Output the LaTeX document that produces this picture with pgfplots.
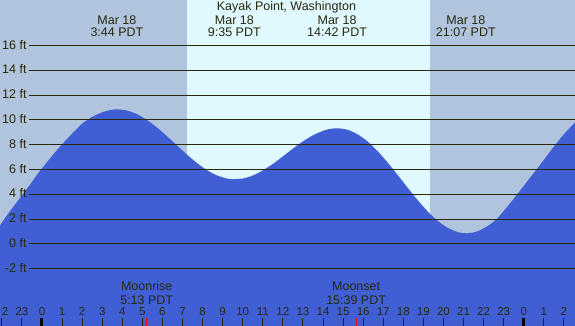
\documentclass[border=0pt]{standalone}
\usepackage{pgfplots}
\pgfplotsset{compat=1.18}
\usepackage{fontspec}
\setmainfont{Liberation Sans}
\definecolor{night}{RGB}{176,196,222}
\definecolor{day}{RGB}{224,248,255}
\definecolor{tide}{RGB}{65,95,213}
\definecolor{ink}{RGB}{40,40,10}
\begin{document}
\begin{tikzpicture}
\begin{axis}[
  width=575pt, height=326pt, scale only axis,
  xmin=-2.0916, xmax=26.5538, ymin=-6.613, ymax=19.677,
  axis line style={draw=none},
  ytick=\empty,
  xtick={-2,...,26},
  xticklabels={{\hphantom{2}2},23,0,1,2,3,4,5,6,7,8,9,10,11,12,13,14,15,16,17,18,19,20,21,22,23,0,1,2},
  xtick pos=lower, tick align=inside,
  major tick length=8pt,
  tick style={ink, line width=0.9pt},
  xticklabel style={anchor=base, yshift=10.3pt, font=\fontsize{11.5}{12}\selectfont, text=ink, inner sep=0pt},
  extra x ticks={0,24}, extra x tick labels={},
  extra x tick style={major tick style={black, line width=3pt}},
  axis on top,
  clip=true,
]
% background: night / day / night
\addplot[fill=night, draw=none] coordinates {(-3,-7) (7.205,-7) (7.205,20) (-3,20)};
\addplot[fill=day, draw=none] coordinates {(7.205,-7) (19.32,-7) (19.32,20) (7.205,20)};
\addplot[fill=night, draw=none] coordinates {(19.32,-7) (27,-7) (27,20) (19.32,20)};
% tide area
\addplot[fill=tide, draw=none] coordinates {(-3,-7) (27,-7) (27,0.5) (-3,0.5)};
\addplot[fill=tide, draw=none, smooth] coordinates {
(-2.0916,1.5) (-1.88,2.0) (-1.5,2.85) (-0.96,4.0) (-0.5,5.0) (-0.1,5.9) (0.5,7.1) (0.98,8.0)
(1.5,8.9) (2.0,9.7) (2.5,10.25) (3.0,10.62) (3.4,10.8) (3.73,10.86) (4.23,10.76) (4.73,10.47)
(5.23,10.0) (5.73,9.39) (6.23,8.69) (6.73,7.94) (7.23,7.20) (7.73,6.52) (8.23,5.94) (8.73,5.52)
(9.23,5.28) (9.6,5.22) (10.1,5.31) (10.6,5.59) (11.1,6.03) (11.6,6.57) (12.1,7.19) (12.6,7.81)
(13.1,8.38) (13.6,8.85) (14.1,9.18) (14.4,9.29) (14.74,9.33) (15.24,9.20) (15.74,8.83) (16.24,8.24)
(16.74,7.45) (17.24,6.53) (17.74,5.52) (18.24,4.49) (18.74,3.49) (19.24,2.58) (19.74,1.83) (20.24,1.28)
(20.74,0.95) (21.15,0.86) (21.65,1.0) (22.15,1.4) (22.64,2.0) (23.15,2.95) (23.67,4.0) (24.15,5.0)
(24.63,6.0) (25.1,7.0) (25.55,7.95) (26.0,8.85) (26.5538,9.8)
} \closedcycle;
% grid lines
\addplot[ink, line width=1pt] coordinates {(-0.647,16) (27,16)};
\addplot[ink, line width=1pt] coordinates {(-0.647,14) (27,14)};
\addplot[ink, line width=1pt] coordinates {(-0.647,12) (27,12)};
\addplot[ink, line width=1pt] coordinates {(-0.647,10) (27,10)};
\addplot[ink, line width=1pt] coordinates {(-0.647,8) (27,8)};
\addplot[ink, line width=1pt] coordinates {(-0.647,6) (27,6)};
\addplot[ink, line width=1pt] coordinates {(-0.647,4) (27,4)};
\addplot[ink, line width=1pt] coordinates {(-0.647,2) (27,2)};
\addplot[ink, line width=1pt] coordinates {(-0.647,0) (27,0)};
\addplot[ink, line width=1pt] coordinates {(-0.647,-2) (27,-2)};
% moon ticks
\addplot[red, line width=1pt] coordinates {(5.217,-6.7) (5.217,-5.97)};
\addplot[red, line width=1pt] coordinates {(15.65,-6.7) (15.65,-5.97)};
% labels
\begin{scope}[every node/.style={font=\fontsize{12.5}{14}\selectfont, text=ink, inner sep=0pt}]
\node[anchor=base] at (axis cs:12.176,18.79) {Kayak Point, Washington};
\node[anchor=base] at (axis cs:3.733,17.74) {Mar 18};
\node[anchor=base] at (axis cs:3.733,16.77) {3:44 PDT};
\node[anchor=base] at (axis cs:9.583,17.74) {Mar 18};
\node[anchor=base] at (axis cs:9.583,16.77) {9:35 PDT};
\node[anchor=base] at (axis cs:14.7,17.74) {Mar 18};
\node[anchor=base] at (axis cs:14.7,16.77) {14:42 PDT};
\node[anchor=base] at (axis cs:21.117,17.74) {Mar 18};
\node[anchor=base] at (axis cs:21.117,16.77) {21:07 PDT};
\node[anchor=base] at (axis cs:5.217,-3.79) {Moonrise};
\node[anchor=base] at (axis cs:5.217,-4.84) {5:13 PDT};
\node[anchor=base] at (axis cs:15.65,-3.79) {Moonset};
\node[anchor=base] at (axis cs:15.65,-4.84) {15:39 PDT};
\node[anchor=east, yshift=1pt] at (axis cs:-0.762,16) {16 ft};
\node[anchor=east, yshift=1pt] at (axis cs:-0.762,14) {14 ft};
\node[anchor=east, yshift=1pt] at (axis cs:-0.762,12) {12 ft};
\node[anchor=east, yshift=1pt] at (axis cs:-0.762,10) {10 ft};
\node[anchor=east, yshift=1pt] at (axis cs:-0.762,8) {8 ft};
\node[anchor=east, yshift=1pt] at (axis cs:-0.762,6) {6 ft};
\node[anchor=east, yshift=1pt] at (axis cs:-0.762,4) {4 ft};
\node[anchor=east, yshift=1pt] at (axis cs:-0.762,2) {2 ft};
\node[anchor=east, yshift=1pt] at (axis cs:-0.762,0) {0 ft};
\node[anchor=east, yshift=1pt] at (axis cs:-0.762,-2) {-2 ft};
\end{scope}
\end{axis}
\pgfresetboundingbox
\path[use as bounding box] (current axis.south west) rectangle (current axis.north east);
\end{tikzpicture}
\end{document}
